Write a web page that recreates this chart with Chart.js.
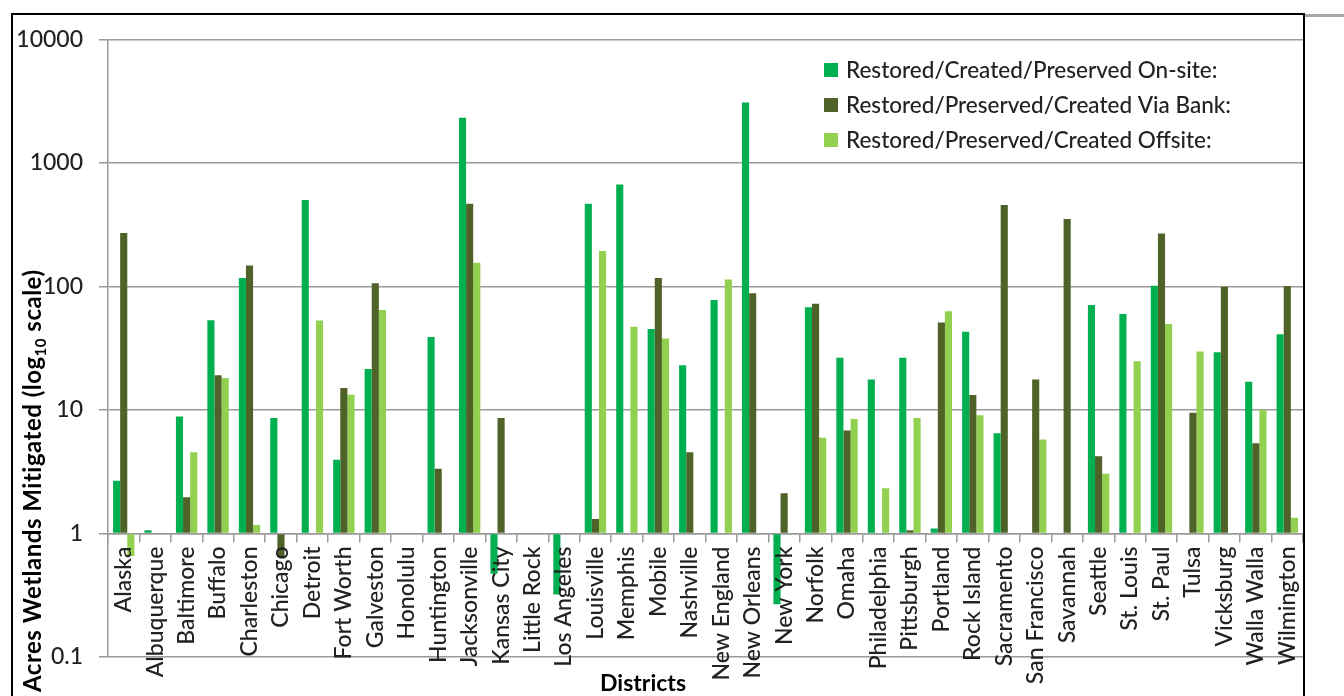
<!DOCTYPE html>
<html>
<head>
<meta charset="utf-8">
<script src="https://cdn.jsdelivr.net/npm/chart.js@4.4.1/dist/chart.umd.min.js"></script>
<style>
  html, body { margin: 0; padding: 0; background: #fff; }
  #wrap { position: relative; width: 1344px; height: 696px; overflow: hidden; }
  #c { position: absolute; left: 0; top: 0; }
  .frame { position: absolute; left: 11px; top: 13px; width: 1290px; height: 720px;
           border-left: 2px solid #000; border-right: 2px solid #000; border-top: 2.5px solid #000;
           pointer-events: none; }
  .strip { position: absolute; left: 1305px; top: 14px; width: 39px; height: 2.5px; background: #a6a6a6; }
</style>
</head>
<body>
<div id="wrap">
  <canvas id="c" width="1344" height="696"></canvas>
  <div class="frame"></div>
  <div class="strip"></div>
</div>
<script>
// Acres of wetlands mitigated per Corps district, by mitigation type
const districts = [
  'Alaska', 'Albuquerque', 'Baltimore', 'Buffalo', 'Charleston', 'Chicago', 'Detroit',
  'Fort Worth', 'Galveston', 'Honolulu', 'Huntington', 'Jacksonville', 'Kansas City',
  'Little Rock', 'Los Angeles', 'Louisville', 'Memphis', 'Mobile', 'Nashville',
  'New England', 'New Orleans', 'New York', 'Norfolk', 'Omaha', 'Philadelphia',
  'Pittsburgh', 'Portland', 'Rock Island', 'Sacramento', 'San Francisco', 'Savannah',
  'Seattle', 'St. Louis', 'St. Paul', 'Tulsa', 'Vicksburg', 'Walla Walla', 'Wilmington'
];

const onSite = [
  2.68, 1.06, 8.85, 53.2, 117, 8.63, 501,
  3.95, 21.5, null, 39, 2321, 0.472,
  null, 0.321, 468, 670, 45.3, 23,
  77.8, 3090, 0.267, 67.8, 26.5, 17.7,
  26.5, 1.10, 43.1, 6.48, null, null,
  70.8, 59.9, 101.5, null, 29.3, 16.9, 41
];

const viaBank = [
  271, null, 1.97, 19.1, 148, 0.644, null,
  15.1, 106, null, 3.34, 468, 8.63,
  null, null, 1.31, null, 117, 4.55,
  null, 88, 2.12, 72.6, 6.81, null,
  1.06, 51, 13.2, 456, 17.7, 352,
  4.22, null, 269, 9.52, 99.6, 5.38, 101
];

const offsite = [
  0.656, null, 4.55, 18.2, 1.17, null, 53,
  13.3, 64.5, null, null, 156, null,
  null, null, 194, 47.3, 38, null,
  114, null, null, 5.95, 8.47, 2.33,
  8.63, 62.9, 9.06, null, 5.76, null,
  3.04, 24.8, 49.7, 29.8, null, 10.07, 1.34
];

const seriesNames = [
  'Restored/Created/Preserved On-site:',
  'Restored/Preserved/Created Via Bank:',
  'Restored/Preserved/Created Offsite:'
];
const seriesColors = ['#00B050', '#4F6228', '#92D050'];
const yTickValues = [0.1, 1, 10, 100, 1000, 10000];

const FONT = 'Lato, "Open Sans", sans-serif';
const GRID = '#9a9a9a';
const TEXT = '#222';

// Axis titles and the in-plot legend
const decorations = {
  id: 'decorations',
  afterDraw(chart) {
    const ctx = chart.ctx;
    const area = chart.chartArea;
    ctx.save();

    // legend, top right inside the plot
    const lx = area.left + 716, ly = 70, step = 35, box = 14;
    ctx.font = '500 22.5px ' + FONT;
    ctx.textBaseline = 'middle';
    ctx.textAlign = 'left';
    chart.data.datasets.forEach((ds, i) => {
      const cy = ly + i * step;
      ctx.fillStyle = ds.backgroundColor;
      ctx.fillRect(lx, cy - box / 2, box, box);
      ctx.fillStyle = TEXT;
      ctx.fillText(ds.label, lx + 22, cy + 1);
    });

    // y-axis title with subscript
    ctx.save();
    ctx.translate(41, 692);
    ctx.rotate(-Math.PI / 2);
    ctx.fillStyle = '#000';
    ctx.textBaseline = 'alphabetic';
    ctx.letterSpacing = '0.5px';
    let x = 0;
    const parts = [
      ['Acres Wetlands Mitigated (log', 'bold 24px ' + FONT, 0],
      ['10', 'bold 15px ' + FONT, 5],
      [' scale)', 'bold 24px ' + FONT, 0]
    ];
    for (const [txt, font, dy] of parts) {
      ctx.font = font;
      ctx.fillText(txt, x, dy);
      x += ctx.measureText(txt).width;
    }
    ctx.restore();

    // x-axis title
    ctx.font = 'bold 23px ' + FONT;
    ctx.fillStyle = '#000';
    ctx.textAlign = 'center';
    ctx.textBaseline = 'alphabetic';
    ctx.fillText('Districts', 643, 691);

    ctx.restore();
  }
};

const seriesData = [onSite, viaBank, offsite];

new Chart(document.getElementById('c'), {
  type: 'bar',
  data: {
    labels: districts,
    datasets: seriesData.map((d, i) => ({
      label: seriesNames[i],
      data: d,
      backgroundColor: seriesColors[i],
      borderWidth: 0,
      base: 1,
      categoryPercentage: 0.68,
      barPercentage: 1.0
    }))
  },
  options: {
    responsive: false,
    animation: false,
    layout: { padding: { left: 0, right: 41, top: 39.5, bottom: 39 } },
    plugins: {
      legend: { display: false },
      tooltip: { enabled: false }
    },
    scales: {
      x: {
        axis: 'x',
        type: 'category',
        position: { y: 1 },
        offset: true,
        grid: { offset: true, drawOnChartArea: false, drawTicks: true, tickLength: 8, color: GRID, lineWidth: 1.5 },
        border: { display: true, color: GRID, width: 1.5 },
        ticks: {
          autoSkip: false, maxRotation: 90, minRotation: 90, padding: 5, z: 1,
          color: TEXT, font: { family: FONT, size: 23, weight: '500' }
        }
      },
      y: {
        type: 'logarithmic',
        min: 0.1,
        max: 10000,
        afterBuildTicks: (s) => { s.ticks = yTickValues.map(v => ({ value: v })); },
        afterFit: (s) => { s.width = 108; },
        grid: { color: GRID, lineWidth: 1.5, tickLength: 9, drawTicks: true },
        border: { display: true, color: GRID, width: 1.5 },
        ticks: {
          padding: 16, color: TEXT, font: { family: FONT, size: 23, weight: '500' },
          callback: (v) => String(v)
        }
      }
    }
  },
  plugins: [decorations]
});
</script>
</body>
</html>
